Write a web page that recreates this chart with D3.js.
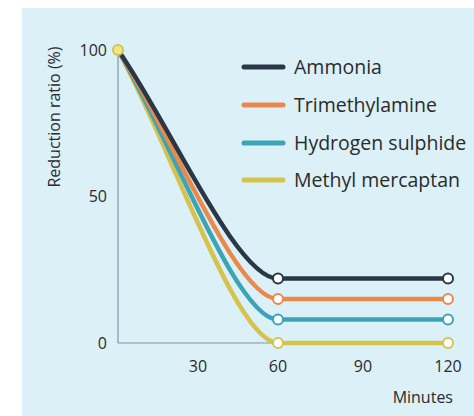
<!DOCTYPE html>
<html>
<head>
<meta charset="utf-8">
<script src="https://cdn.jsdelivr.net/npm/d3@7"></script>
<style>
  body { margin: 0; background: #fff; }
  text { font-family: "Open Sans", "Noto Sans", sans-serif; fill: #2b2b2b; }
</style>
</head>
<body>
<div id="chart"></div>
<script>
// chart data
var minutes = [0, 60, 120];
var seriesNames = ["Ammonia", "Trimethylamine", "Hydrogen sulphide", "Methyl mercaptan"];
var ammonia = [100, 22, 22];
var trimethylamine = [100, 15, 15];
var hydrogenSulphide = [100, 8, 8];
var methylMercaptan = [100, 0, 0];
var xTicks = [30, 60, 90, 120];
var yTicks = [0, 50, 100];
var colors = ["#2a3746", "#e9894b", "#3ca4b6", "#d6c34e"];

var svgWidth = 474;
var svgHeight = 416;

var svg = d3.select("#chart")
  .append("svg")
  .attr("width", svgWidth)
  .attr("height", svgHeight);

// light blue panel
svg.append("rect")
  .attr("x", 22)
  .attr("y", 8)
  .attr("width", svgWidth - 22)
  .attr("height", svgHeight - 8)
  .attr("fill", "#dcf0f8");

var xScale = d3.scaleLinear().domain([0, 60, 120]).range([118, 278, 448]);
var yScale = d3.scaleLinear().domain([0, 100]).range([343, 50]);

// straight run then a bend that lands flat on the next point
function curveBend(context) {
  var pts = [];
  return {
    areaStart: function() {},
    areaEnd: function() {},
    lineStart: function() { pts = []; },
    point: function(x, y) { pts.push([x, y]); },
    lineEnd: function() {
      context.moveTo(pts[0][0], pts[0][1]);
      for (var i = 1; i < pts.length; i++) {
        var p0 = pts[i - 1], p1 = pts[i];
        var h = p1[0] - p0[0];
        if (p0[1] === p1[1]) {
          context.lineTo(p1[0], p1[1]);
        } else {
          context.bezierCurveTo(
            p0[0] + h * 0.33, p0[1] + (p1[1] - p0[1]) * 0.33,
            p1[0] - h * 0.26, p1[1],
            p1[0], p1[1]);
        }
      }
    }
  };
}

// axis lines
svg.append("line")
  .attr("x1", xScale(0)).attr("x2", xScale(0))
  .attr("y1", yScale(100)).attr("y2", yScale(0))
  .attr("stroke", "#7d98a4").attr("stroke-width", 1.2);
svg.append("line")
  .attr("x1", xScale(0)).attr("x2", xScale(60))
  .attr("y1", yScale(0)).attr("y2", yScale(0))
  .attr("stroke", "#7d98a4").attr("stroke-width", 1.2);

// tick labels
svg.selectAll(".ytick")
  .data(yTicks)
  .enter()
  .append("text")
  .attr("x", 107)
  .attr("y", d => yScale(d))
  .attr("dy", "0.35em")
  .attr("text-anchor", "end")
  .attr("font-size", "16px")
  .text(d => d);

svg.selectAll(".xtick")
  .data(xTicks)
  .enter()
  .append("text")
  .attr("x", d => xScale(d))
  .attr("y", 372)
  .attr("text-anchor", "middle")
  .attr("font-size", "16px")
  .text(d => d);

// axis titles
svg.append("text")
  .attr("transform", "translate(54, 117) rotate(-90)")
  .attr("text-anchor", "middle")
  .attr("dy", "0.35em")
  .attr("font-size", "16px")
  .text("Reduction ratio (%)");

svg.append("text")
  .attr("x", 453)
  .attr("y", 403)
  .attr("text-anchor", "end")
  .attr("font-size", "16px")
  .text("Minutes");

// lines
var allSeries = [ammonia, trimethylamine, hydrogenSulphide, methylMercaptan];
var line = d3.line()
  .x((d, i) => xScale(minutes[i]))
  .y(d => yScale(d))
  .curve(curveBend);

// draw back-to-front so yellow sits on top at the start
for (var s = allSeries.length - 1; s >= 0; s--) {
  svg.append("path")
    .datum(allSeries[s])
    .attr("d", line)
    .attr("fill", "none")
    .attr("stroke", colors[s])
    .attr("stroke-width", 4.5);
}

// markers at 60 and 120
allSeries.forEach(function(values, s) {
  svg.selectAll(null)
    .data(values.slice(1))
    .enter()
    .append("circle")
    .attr("cx", (d, i) => xScale(minutes[i + 1]))
    .attr("cy", d => yScale(d))
    .attr("r", 5)
    .attr("fill", "#fff")
    .attr("stroke", colors[s])
    .attr("stroke-width", 2);
});

// start marker
svg.append("circle")
  .attr("cx", xScale(minutes[0]))
  .attr("cy", yScale(methylMercaptan[0]))
  .attr("r", 5)
  .attr("fill", "#f2e48a")
  .attr("stroke", colors[3])
  .attr("stroke-width", 2);

// legend
var legendY = [67, 105, 143, 180];
seriesNames.forEach(function(name, i) {
  svg.append("line")
    .attr("x1", 244).attr("x2", 283)
    .attr("y1", legendY[i]).attr("y2", legendY[i])
    .attr("stroke", colors[i])
    .attr("stroke-width", 5)
    .attr("stroke-linecap", "round");
  svg.append("text")
    .attr("x", 294)
    .attr("y", legendY[i])
    .attr("dy", "0.35em")
    .attr("font-size", "19.5px")
    .text(name);
});
</script>
</body>
</html>
